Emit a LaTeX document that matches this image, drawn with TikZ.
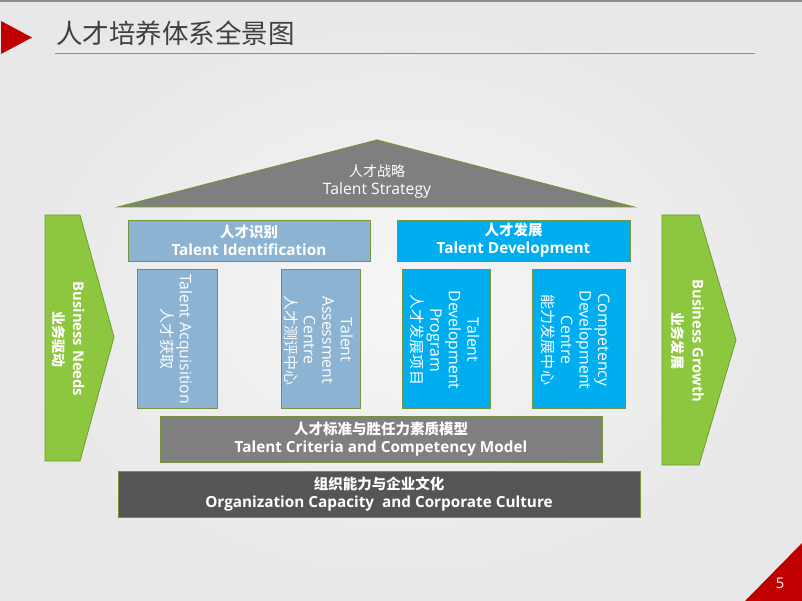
\documentclass[tikz,border=0pt]{standalone}
\usepackage{fontspec}
\setmainfont{Open Sans}[Scale=1.055]
\newfontfamily\cjk{Noto Sans CJK SC}
\definecolor{bgin}{HTML}{F6F6F6}
\definecolor{bgout}{HTML}{E8E8E8}
\definecolor{redc}{HTML}{C00000}
\definecolor{titlec}{HTML}{404040}
\definecolor{linec}{HTML}{8C8C8C}
\definecolor{olivec}{HTML}{77933C}
\definecolor{roofc}{HTML}{7F7F7F}
\definecolor{idc}{HTML}{8CB4D2}
\definecolor{devc}{HTML}{00ADEF}
\definecolor{critc}{HTML}{808080}
\definecolor{orgc}{HTML}{555555}
\definecolor{greenc}{HTML}{8DC63F}
\definecolor{greenb}{HTML}{6E9E2E}
\tikzset{
  box/.style={draw=olivec, line width=0.8pt, text=white, align=center, inner sep=0pt},
  headbox/.style={box, font=\bfseries\fontsize{14.5}{18}\selectfont},
  colbox/.style={box},
  coltext/.style={text=white, align=center, rotate=-90, inner sep=0pt, font=\fontsize{15}{18.5}\selectfont},
  arrowtext/.style={text=white, align=center, rotate=-90, inner sep=0pt, font=\bfseries\fontsize{14}{20}\selectfont},
  greenarrow/.style={fill=greenc, draw=greenb, line width=0.8pt}
}
\begin{document}
\begin{tikzpicture}[x=1pt,y=-1pt]
\useasboundingbox (0,0) rectangle (802,601);
\shade[inner color=bgin, outer color=bgout] (0,0) rectangle (802,601);
\fill[linec] (0,0) rectangle (802,2);
% header
\fill[redc] (1,21) -- (32,37.5) -- (1,54) -- cycle;
\node[anchor=west, text=titlec, inner sep=0pt, font=\cjk\fontsize{26.5}{30}\selectfont] (title) at (56,33) {人才培养体系全景图};
\draw[linec, line width=1pt] (55,54) -- (755,54);
% roof
\filldraw[fill=roofc, draw=olivec, line width=1pt] (118,207) -- (377,140) -- (634,207) -- cycle;
\node[text=white, align=center, inner sep=0pt, font=\fontsize{14}{18}\selectfont] (strategy) at (377,181) {{\cjk 人才战略}\\{\fontsize{14.9}{18}\selectfont Talent Strategy}};
% headers
\node[headbox, fill=idc, minimum width=242pt, minimum height=41pt] (ident) at (249,240.5) {{\cjk\bfseries 人才识别}\\Talent Identification};
\node[headbox, fill=devc, minimum width=233pt, minimum height=41pt] (develop) at (513.5,240.5) {{\cjk\bfseries 人才发展}\\Talent Development};
% columns
\node[colbox, fill=idc, minimum width=80pt, minimum height=139pt] (acq) at (177,338.5) {};
\node[coltext] (acqt) at (176,339) {Talent Acquisition\\{\cjk 人才获取}};
\node[colbox, fill=idc, minimum width=79pt, minimum height=139pt] (ass) at (320.5,338.5) {};
\node[coltext] (asst) at (318.5,340) {Talent\\Assessment\\Centre\\{\cjk 人才测评中心}};
\node[colbox, fill=devc, minimum width=88pt, minimum height=139pt] (prog) at (446,338.5) {};
\node[coltext] (progt) at (445,340) {Talent\\Development\\Program\\{\cjk 人才发展项目}};
\node[colbox, fill=devc, minimum width=93pt, minimum height=139pt] (comp) at (578.5,338.5) {};
\node[coltext] (compt) at (575.5,340) {Competency\\Development\\Centre\\{\cjk 能力发展中心}};
% foundations
\node[headbox, fill=critc, minimum width=442pt, minimum height=46pt] (crit) at (381,439) {{\cjk\bfseries 人才标准与胜任力素质模型}\\Talent Criteria and Competency Model};
\node[headbox, fill=orgc, minimum width=522pt, minimum height=46pt] (org) at (379,494) {{\cjk\bfseries 组织能力与企业文化}\\Organization Capacity~ and Corporate Culture};
% green arrows
\filldraw[greenarrow] (45,215) -- (80,215) -- (114,337) -- (80,461) -- (45,461) -- cycle;
\node[arrowtext] (needs) at (68,339) {Business Needs\\{\cjk\bfseries 业务驱动}};
\filldraw[greenarrow] (662,215) -- (699,215) -- (736,340) -- (699,465) -- (662,465) -- cycle;
\node[arrowtext] (growth) at (687.5,341) {Business Growth\\{\cjk\bfseries 业务发展}};
% page number
\fill[redc] (745,601) -- (802,543) -- (802,601) -- cycle;
\node[text=white, inner sep=0pt, font=\fontsize{14}{16}\selectfont] (pnum) at (780,583) {5};
\end{tikzpicture}
\end{document}
